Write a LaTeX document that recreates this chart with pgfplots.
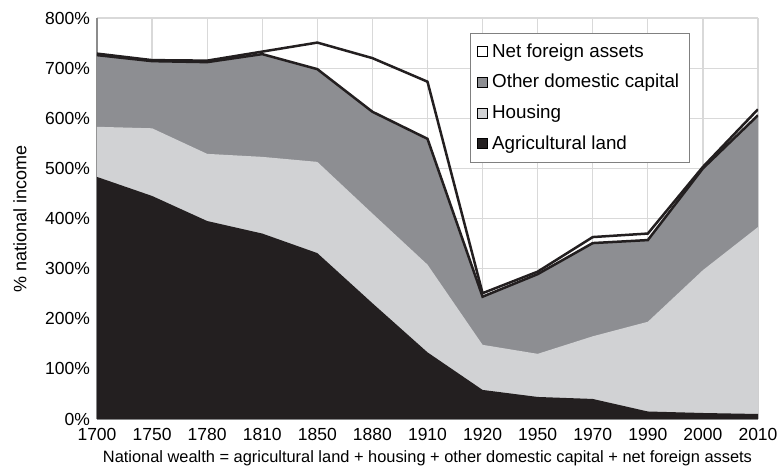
\documentclass[border=0pt]{standalone}
\usepackage{fontspec}
\setmainfont{Liberation Sans}
\usepackage{pgfplots}
\pgfplotsset{compat=1.18}
\definecolor{agri}{HTML}{231F20}
\definecolor{hous}{HTML}{D1D2D4}
\definecolor{othercap}{HTML}{8D8E92}
\begin{document}
\begin{tikzpicture}
\useasboundingbox (-48.5pt,-27pt) rectangle (343pt,209.5pt);
\begin{axis}[
  at={(0,0)}, anchor=south west,
  scale only axis, width=330.5pt, height=200.5pt,
  xmin=0, xmax=12, ymin=0, ymax=800,
  xtick={0,...,12},
  xticklabels={1700,1750,1780,1810,1850,1880,1910,1920,1950,1970,1990,2000,2010},
  ytick={0,100,...,800},
  yticklabel={\pgfmathprintnumber{\tick}\%},
  grid=major, major grid style={draw=black!15, line width=0.6pt},
  axis x line*=bottom, axis y line*=left,
  axis line style={draw=black!45, line width=0.8pt},
  major tick length=0pt,
  tick label style={font=\fontsize{8.75}{10}\selectfont},
  xticklabel style={yshift=-1pt},
  /pgf/number format/assume math mode=true,
  xlabel={National wealth = agricultural land + housing + other domestic capital + net foreign assets},
  xlabel style={font=\fontsize{8.2}{9}\selectfont, at={(axis description cs:0.5,-0.097)}, anchor=center},
  ylabel={\% national income},
  ylabel style={font=\fontsize{9}{10}\selectfont, at={(axis description cs:-0.1165,0.5)}, anchor=center},
  legend style={at={(rel axis cs:0.565,0.9626)}, anchor=north west, draw=black!50, line width=0.5pt,
    font=\fontsize{9.4}{11}\selectfont, row sep=3pt, inner xsep=3pt, inner ysep=3pt},
  legend cell align=left,
  legend image code/.code={\draw[#1] (0pt,-2.5pt) rectangle (5pt,2.5pt);},
]
\addlegendimage{fill=white, draw=black, line width=0.6pt}
\addlegendentry{Net foreign assets}
% cumulative: other domestic capital top
\addplot[fill=othercap, draw=none] coordinates {
(0,726) (1,714) (2,712) (3,728) (4,698) (5,613) (6,559) (7,244) (8,289) (9,351) (10,357) (11,500) (12,606)
} \closedcycle;
\addlegendentry{Other domestic capital}
% housing top
\addplot[fill=hous, draw=none] coordinates {
(0,583) (1,580) (2,529) (3,523) (4,513) (5,410) (6,308) (7,148) (8,130) (9,165) (10,194) (11,297) (12,383)
} \closedcycle;
\addlegendentry{Housing}
% agricultural land
\addplot[fill=agri, draw=none] coordinates {
(0,483) (1,445) (2,395) (3,370) (4,331) (5,231) (6,133) (7,58) (8,44) (9,40) (10,15) (11,12) (12,10)
} \closedcycle;
\addlegendentry{Agricultural land}
% boundary lines
\addplot[forget plot, agri, line width=1.25pt] coordinates {
(0,726) (1,714) (2,712) (3,728) (4,698) (5,613) (6,559) (7,244) (8,289) (9,351) (10,357) (11,500) (12,606)
};
\addplot[forget plot, agri, line width=1.25pt] coordinates {
(0,729) (1,716) (2,715) (3,733) (4,751) (5,720) (6,673) (7,251) (8,294) (9,363) (10,370) (11,503) (12,618)
};
\end{axis}
\end{tikzpicture}
\end{document}
